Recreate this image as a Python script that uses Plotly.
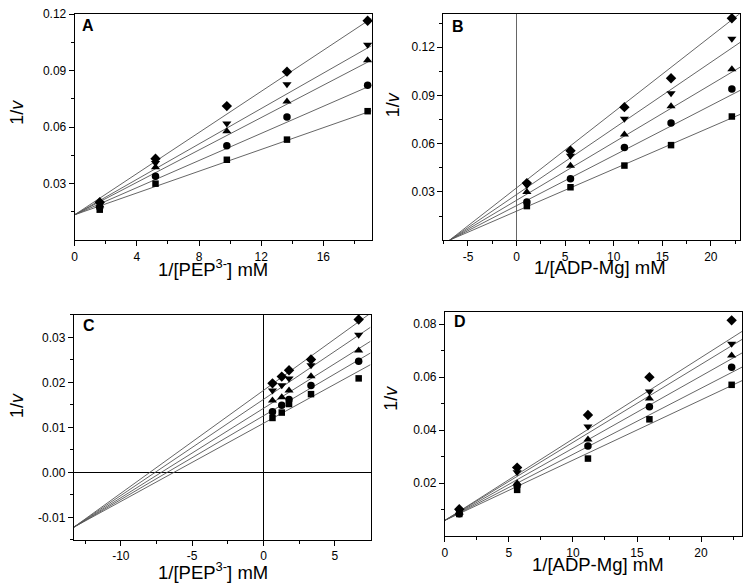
import plotly.graph_objects as go

# ---------------- data ----------------
# Panel A: 1/v vs 1/[PEP3-]
a_x = [1.61, 5.2, 9.79, 13.66, 18.85]
a_square = [0.0162, 0.0300, 0.0427, 0.0534, 0.0685]
a_circle = [0.0175, 0.0340, 0.0502, 0.0654, 0.0823]
a_tri_up = [0.0185, 0.0387, 0.0579, 0.0736, 0.0956]
a_tri_down = [0.0190, 0.0410, 0.0619, 0.0828, 0.1038]
a_diamond = [0.0201, 0.0433, 0.0712, 0.0895, 0.1165]
a_fit_x0, a_fit_y0, a_fit_x1 = 0.0, 0.0135, 19.1
a_fit_slopes = [0.00289, 0.00360, 0.00430, 0.00470, 0.00546]

# Panel B: 1/v vs 1/[ADP-Mg]
b_x = [1.06, 5.55, 11.1, 15.9, 22.16]
b_square = [0.0212, 0.0329, 0.0464, 0.0591, 0.0769]
b_circle = [0.0238, 0.0382, 0.0577, 0.0728, 0.0940]
b_tri_up = [0.0300, 0.0462, 0.0657, 0.0833, 0.1063]
b_tri_down = [0.0341, 0.0525, 0.0755, 0.0913, 0.1253]
b_diamond = [0.0355, 0.0556, 0.0827, 0.1007, 0.1380]
b_fit_x0, b_fit_y0, b_fit_x1 = -6.9, 0.0, 23.0
b_fit_slopes = [0.002615, 0.003114, 0.003596, 0.004112, 0.004714]

# Panel C: 1/v vs 1/[PEP3-]
c_x = [0.63, 1.28, 1.79, 3.33, 6.67]
c_square = [0.0121, 0.0133, 0.0152, 0.0174, 0.0209]
c_circle = [0.0135, 0.0149, 0.0162, 0.0193, 0.0247]
c_tri_up = [0.0160, 0.0167, 0.0182, 0.0214, 0.0271]
c_tri_down = [0.0182, 0.0194, 0.0209, 0.0238, 0.0306]
c_diamond = [0.0198, 0.0213, 0.0227, 0.0251, 0.0340]
c_fit_x0, c_fit_y0, c_fit_x1 = -13.3, -0.0122, 7.5
c_fit_slopes = [0.001738, 0.001863, 0.001988, 0.002138, 0.002288]

# Panel D: 1/v vs 1/[ADP-Mg]
d_x = [1.12, 5.64, 11.17, 15.97, 22.39]
d_square = [0.0084, 0.0175, 0.0293, 0.0441, 0.0571]
d_circle = [0.0085, 0.0191, 0.0340, 0.0488, 0.0637]
d_tri_up = [0.0090, 0.0200, 0.0365, 0.0519, 0.0682]
d_tri_down = [0.0095, 0.0241, 0.0414, 0.0546, 0.0726]
d_diamond = [0.0102, 0.0259, 0.0457, 0.0600, 0.0814]
d_fit_x0, d_fit_y0, d_fit_x1 = 0.0, 0.006, 23.2
d_fit_slopes = [0.00227, 0.00249, 0.00272, 0.00294, 0.00307]

# tick labels
a_xticks = [0, 4, 8, 12, 16]
a_yticks = [0.03, 0.06, 0.09, 0.12]
b_xticks = [-5, 0, 5, 10, 15, 20]
b_yticks = [0.03, 0.06, 0.09, 0.12]
c_xticks = [-10, -5, 0, 5]
c_yticks = [-0.01, 0.00, 0.01, 0.02, 0.03]
c_ytext = ["-0.01", "0.00", "0.01", "0.02", "0.03"]
d_xticks = [0, 5, 10, 15, 20]
d_yticks = [0.02, 0.04, 0.06, 0.08]

panel_letters = ["A", "B", "C", "D"]
x_titles = ["1/[PEP<sup>3-</sup>] mM", "1/[ADP-Mg] mM", "1/[PEP<sup>3-</sup>] mM", "1/[ADP-Mg] mM"]
y_title = "1/<i>v</i>"

symbols = ["square", "circle", "triangle-up", "triangle-down", "diamond"]
sizes = [6.5, 7.5, 8, 8, 8]

# ---------------- layout geometry ----------------
W, H = 745, 585
px = lambda v: min(1.0, max(0.0, v / W))
py = lambda v: min(1.0, max(0.0, 1 - v / H))

panels = [
    dict(x=a_x, ys=[a_square, a_circle, a_tri_up, a_tri_down, a_diamond],
         fit=(a_fit_x0, a_fit_y0, a_fit_x1, a_fit_slopes),
         xr=[0, 19.1], yr=[0, 0.12], xt=a_xticks, xtext=[str(v) for v in a_xticks],
         xminor=[2, 6, 10, 14, 18],
         yt=a_yticks, ytext=["%.2f" % v for v in a_yticks],
         yminor=[0.015, 0.045, 0.075, 0.105],
         dom=(72, 370, 7.3, 236), xz=False, yz=False, zc="#666666",
         title_xy=(211, 264), ytitle_xy=(14, 106), letter_xy=(85, 19)),
    dict(x=b_x, ys=[b_square, b_circle, b_tri_up, b_tri_down, b_diamond],
         fit=(b_fit_x0, b_fit_y0, b_fit_x1, b_fit_slopes),
         xr=[-7.55, 23.0], yr=[0, 0.1405], xt=b_xticks, xtext=[str(v) for v in b_xticks],
         xminor=[-7.5, -2.5, 2.5, 7.5, 12.5, 17.5, 22.5],
         yt=b_yticks, ytext=["%.2f" % v for v in b_yticks],
         yminor=[0.015, 0.045, 0.075, 0.105, 0.135],
         dom=(442, 740, 7.3, 236), xz=True, yz=False, zc="#666666",
         title_xy=(599, 264), ytitle_xy=(391, 99), letter_xy=(457, 20)),
    dict(x=c_x, ys=[c_square, c_circle, c_tri_up, c_tri_down, c_diamond],
         fit=(c_fit_x0, c_fit_y0, c_fit_x1, c_fit_slopes),
         xr=[-13.3, 7.5], yr=[-0.015, 0.035], xt=c_xticks, xtext=[str(v) for v in c_xticks],
         xminor=[-12.5, -7.5, -2.5, 2.5],
         yt=c_yticks, ytext=c_ytext,
         yminor=[-0.015, -0.005, 0.005, 0.015, 0.025, 0.035],
         dom=(71, 369, 311.7, 539.3), xz=True, yz=True, zc="#000000",
         title_xy=(211, 571), ytitle_xy=(14, 403), letter_xy=(86, 322)),
    dict(x=d_x, ys=[d_square, d_circle, d_tri_up, d_tri_down, d_diamond],
         fit=(d_fit_x0, d_fit_y0, d_fit_x1, d_fit_slopes),
         xr=[0, 23.2], yr=[0, 0.0847], xt=d_xticks, xtext=[str(v) for v in d_xticks],
         xminor=[2.5, 7.5, 12.5, 17.5, 22.5],
         yt=d_yticks, ytext=["%.2f" % v for v in d_yticks],
         yminor=[0.01, 0.03, 0.05, 0.07],
         dom=(443.7, 742, 308.3, 535.7), xz=False, yz=False, zc="#666666",
         title_xy=(597, 564), ytitle_xy=(390, 396), letter_xy=(459, 318)),
]

fig = go.Figure()
FONT = "Liberation Sans, Arial, sans-serif"
annotations = []

for i, p in enumerate(panels, start=1):
    xa = "x" if i == 1 else f"x{i}"
    ya = "y" if i == 1 else f"y{i}"
    x0, y0, x1, slopes = p["fit"]
    # fitted lines
    for s in slopes:
        fig.add_trace(go.Scatter(x=[x0, x1], y=[y0, y0 + s * (x1 - x0)], mode="lines",
                                 line=dict(color="#555555", width=0.9),
                                 xaxis=xa, yaxis=ya, showlegend=False, hoverinfo="skip",
                                 cliponaxis=True))
    # data points
    for ys, sym, sz in zip(p["ys"], symbols, sizes):
        fig.add_trace(go.Scatter(x=p["x"], y=ys, mode="markers",
                                 marker=dict(symbol=sym, size=sz, color="black",
                                             line=dict(width=0)),
                                 xaxis=xa, yaxis=ya, showlegend=False, cliponaxis=False))
    l, r, t, b = p["dom"]
    axis_common = dict(showline=True, linecolor="black", linewidth=1, mirror=True,
                       ticks="outside", ticklen=5, tickwidth=1, tickcolor="black",
                       showgrid=False, ticklabeloverflow="allow",
                       tickfont=dict(family=FONT, size=12, color="black"))
    xkey = "xaxis" if i == 1 else f"xaxis{i}"
    ykey = "yaxis" if i == 1 else f"yaxis{i}"
    fig.update_layout(**{
        xkey: dict(domain=[px(l), px(r)], range=p["xr"], anchor=ya,
                   tickmode="array", tickvals=p["xt"], ticktext=p["xtext"],
                   minor=dict(tickmode="array", tickvals=p["xminor"], ticks="outside",
                              ticklen=3, tickcolor="black", showgrid=False),
                   zeroline=p["xz"], zerolinecolor=p["zc"], zerolinewidth=1,
                   **axis_common),
        ykey: dict(domain=[py(b), py(t)], range=p["yr"], anchor=xa,
                   tickmode="array", tickvals=p["yt"], ticktext=p["ytext"],
                   minor=dict(tickmode="array", tickvals=p["yminor"], ticks="outside",
                              ticklen=3, tickcolor="black", showgrid=False),
                   zeroline=p["yz"], zerolinecolor=p["zc"], zerolinewidth=1,
                   **axis_common),
    })
    tx, ty = p["title_xy"]
    annotations.append(dict(text=x_titles[i - 1], x=px(tx), y=py(ty), xref="paper", yref="paper",
                            showarrow=False, xanchor="center", yanchor="middle",
                            font=dict(family=FONT, size=18.5, color="black")))
    yx, yy = p["ytitle_xy"]
    annotations.append(dict(text=y_title, x=px(yx), y=py(yy), xref="paper", yref="paper",
                            showarrow=False, xanchor="center", yanchor="middle", textangle=-90,
                            font=dict(family=FONT, size=18, color="black")))
    lx, ly = p["letter_xy"]
    annotations.append(dict(text="<b>%s</b>" % panel_letters[i - 1], x=px(lx), y=py(ly),
                            xref="paper", yref="paper", showarrow=False,
                            xanchor="center", yanchor="middle",
                            font=dict(family=FONT, size=16, color="black")))

fig.update_layout(width=W, height=H, margin=dict(l=0, r=0, t=0, b=0),
                  paper_bgcolor="white", plot_bgcolor="white",
                  annotations=annotations, showlegend=False)

# remove the default 8 px page margin so the figure sits at the window's corner
fig.write_html("out.html", config={"displayModeBar": False},
               post_script="document.body.style.margin='0px';")
